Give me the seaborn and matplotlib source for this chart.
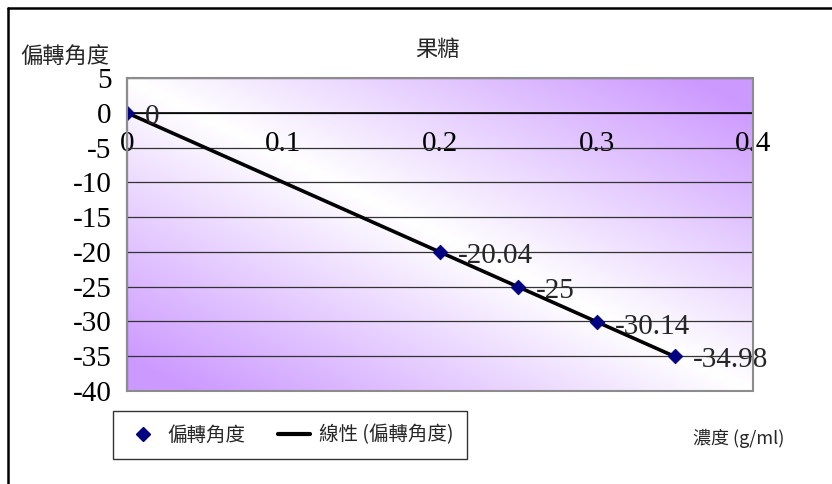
import numpy as np
import pandas as pd
import matplotlib
matplotlib.use("Agg")
import matplotlib.pyplot as plt
from matplotlib.lines import Line2D
from matplotlib.patches import Rectangle
import seaborn as sns

# data
concentration = [0.0, 0.2, 0.25, 0.3, 0.35]
rotation = [0.0, -20.04, -25.0, -30.14, -34.98]
point_labels = ["0", "-20.04", "-25", "-30.14", "-34.98"]
x_ticks = [0.0, 0.1, 0.2, 0.3, 0.4]
x_tick_labels = ["0", "0.1", "0.2", "0.3", "0.4"]
y_ticks = [5, 0, -5, -10, -15, -20, -25, -30, -35, -40]

df = pd.DataFrame({"濃度": concentration, "偏轉角度": rotation})

sns.set_style("white")
plt.rcParams["font.family"] = ["Liberation Serif", "Noto Sans CJK TC", "DejaVu Sans"]
plt.rcParams["axes.unicode_minus"] = False
cjk = ["Noto Sans CJK TC", "Liberation Serif"]

fig = plt.figure(figsize=(8.32, 4.84), dpi=100)
ax = fig.add_axes([127 / 832, 1 - 391 / 484, 626 / 832, 313 / 484])

# diagonal lavender gradient of the plot area
n = 200
u, v = np.meshgrid(np.linspace(0, 1, n), np.linspace(0, 1, n))
t = np.clip(np.abs(u - v) * 1.1, 0, 1)[..., None]
purple = np.array([204, 153, 255]) / 255
grad = (1 - t) * np.ones(3) + t * purple
ax.imshow(grad, extent=[0, 1, 0, 1], transform=ax.transAxes, aspect="auto",
          zorder=0, origin="upper")

ax.set_xlim(0, 0.4)
ax.set_ylim(-40, 5)

for yv in y_ticks:
    ax.axhline(yv, color="#333333", lw=0.9, zorder=1)

sns.regplot(data=df, x="濃度", y="偏轉角度", ax=ax, scatter=False, ci=None,
            truncate=True, color="black", line_kws={"lw": 2.6, "zorder": 3})
sns.scatterplot(data=df, x="濃度", y="偏轉角度", ax=ax, marker="D", s=55,
                color="#000080", edgecolor="#000080", zorder=4, legend=False)

for xv, yv, lab in zip(concentration, rotation, point_labels):
    ax.annotate(lab, (xv, yv), xytext=(13, -3), textcoords="offset points",
                ha="left", va="center", fontsize=21, zorder=5)

ax.set_xlabel("")
ax.set_ylabel("")
ax.set_xticks(x_ticks)
ax.set_xticklabels(x_tick_labels)
ax.set_yticks(y_ticks)
ax.set_yticklabels([str(y) for y in y_ticks])

for s in ["top", "right"]:
    ax.spines[s].set_visible(False)
ax.spines["bottom"].set_position(("data", 0))
ax.spines["bottom"].set_color("black")
ax.spines["bottom"].set_linewidth(1.2)
ax.spines["left"].set_color("black")
ax.spines["left"].set_linewidth(1.5)
ax.add_patch(Rectangle((0, 0), 1, 1, transform=ax.transAxes, fill=False,
                       edgecolor="#8c8c8c", lw=1.5, zorder=6, clip_on=False))

ax.tick_params(axis="x", direction="in", length=8, width=1, pad=13,
               labelsize=21, colors="black")
ax.tick_params(axis="y", direction="in", length=8, width=1, pad=11,
               labelsize=21, colors="black")

fig.text(437 / 832, 1 - 50 / 484, "果糖", ha="center", va="center",
         fontsize=16, family=cjk)
fig.text(20 / 832, 1 - 56 / 484, "偏轉角度", ha="left", va="center",
         fontsize=16, family=cjk)
fig.text(693 / 832, 1 - 438 / 484, "濃度 (g/ml)", ha="left", va="center",
         fontsize=13, family=cjk)

handles = [
    Line2D([], [], marker="D", color="#000080", ls="none", markersize=7),
    Line2D([], [], color="black", lw=3),
]
leg = fig.legend(handles, ["偏轉角度", "線性 (偏轉角度)"], ncol=2,
                 loc="center", bbox_to_anchor=(290 / 832, 1 - 435 / 484),
                 frameon=True, fancybox=False, borderpad=0.7,
                 prop={"family": cjk, "size": 14}, handlelength=1.65,
                 columnspacing=1.65, handletextpad=0.46)
leg.get_frame().set_edgecolor("black")
leg.get_frame().set_linewidth(1.0)

# outer frame (left and top only)
fig.add_artist(Line2D([8 / 832, 8 / 832], [0, 1 - 8 / 484], color="black",
                      lw=1.8, transform=fig.transFigure))
fig.add_artist(Line2D([8 / 832, 1], [1 - 8 / 484, 1 - 8 / 484], color="black",
                      lw=1.8, transform=fig.transFigure))

fig.savefig("out.png", dpi=100)
